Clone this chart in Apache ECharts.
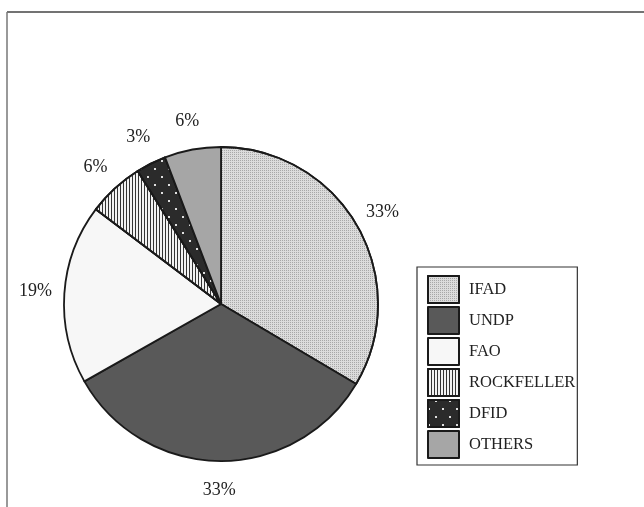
<!DOCTYPE html>
<html>
<head>
<meta charset="utf-8">
<script src="https://cdn.jsdelivr.net/npm/echarts@6/dist/echarts.min.js"></script>
<style>html,body{margin:0;padding:0;background:#fff}#c{width:644px;height:507px}</style>
</head>
<body>
<div id="c"></div>
<script>
var categories = ["IFAD", "UNDP", "FAO", "ROCKFELLER", "DFID", "OTHERS"];
var values = [33.5, 33.3, 18.5, 5.8, 3.1, 5.8];
var labelTexts = ["33%", "33%", "19%", "6%", "3%", "6%"];

var colors = ["#dcdcdc", "#595959", "#f7f7f7", "#f2f2f2", "#2b2b2b", "#a6a6a6"];
var decals = [
  {symbol: 'rect', symbolSize: 1, dashArrayX: [1, 1], dashArrayY: [1, 1], color: '#a8a8a8'},
  null,
  null,
  {symbol: 'rect', symbolSize: 1, dashArrayX: [1, 2], dashArrayY: [4, 0], color: '#333333'},
  {symbol: 'rect', symbolSize: 1, dashArrayX: [[2, 12], [0, 7, 2, 5]], dashArrayY: [2, 6], color: '#e0e0e0'},
  null
];

var serif = '"Liberation Serif", "DejaVu Serif", serif';

var pieData = categories.map(function (c, i) {
  var st = {color: colors[i], borderColor: '#1a1a1a', borderWidth: 1.8};
  if (decals[i]) st.decal = decals[i];
  return {name: c, value: values[i], itemStyle: st};
});
var labelData = categories.map(function (c, i) {
  return {name: c, value: values[i], label: {formatter: labelTexts[i]}};
});

var chart = echarts.init(document.getElementById('c'), null, {renderer: 'canvas'});
chart.setOption({
  animation: false,
  backgroundColor: '#ffffff',
  legend: {
    orient: 'vertical',
    left: 417,
    top: 267,
    width: 150,
    padding: [8, 2, 6, 10],
    itemWidth: 31,
    itemHeight: 27,
    itemGap: 2,
    icon: 'rect',
    backgroundColor: '#ffffff',
    borderColor: '#333333',
    borderWidth: 1.2,
    data: categories,
    itemStyle: {borderColor: '#1a1a1a', borderWidth: 2},
    textStyle: {fontFamily: serif, fontSize: 16.5, color: '#222', padding: [0, 0, 0, 5]}
  },
  series: [
    {
      type: 'pie',
      center: [221, 304],
      radius: [0, 157],
      startAngle: 90,
      clockwise: true,
      label: {show: false},
      labelLine: {show: false},
      silent: true,
      data: pieData
    },
    {
      type: 'pie',
      center: [221, 304],
      radius: [168, 198],
      startAngle: 90,
      clockwise: true,
      silent: true,
      legendHoverLink: false,
      itemStyle: {color: 'rgba(0,0,0,0)', borderWidth: 0},
      label: {show: true, position: 'inside', fontFamily: serif, fontSize: 18, color: '#222', rotate: 0},
      labelLine: {show: false},
      data: labelData
    }
  ],
  graphic: [
    {type: 'line', shape: {x1: 7, y1: 12, x2: 644, y2: 12}, style: {stroke: '#444', lineWidth: 1.5}},
    {type: 'line', shape: {x1: 7, y1: 12, x2: 7, y2: 507}, style: {stroke: '#777', lineWidth: 1.5}}
  ]
});
</script>
</body>
</html>
